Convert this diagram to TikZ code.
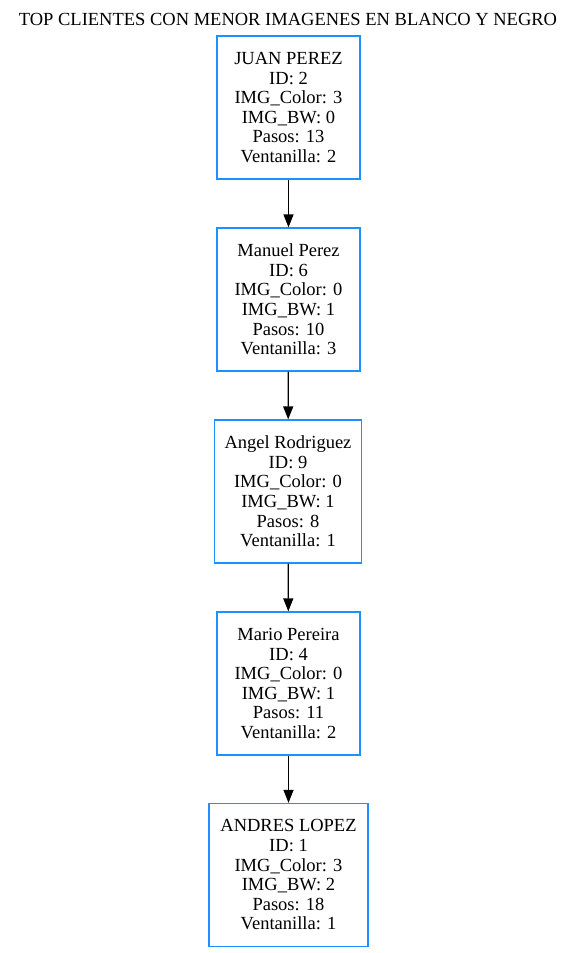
\documentclass[tikz,border=0pt]{standalone}
\usepackage{fontspec}
\setmainfont{Liberation Serif}
\usetikzlibrary{arrows.meta}
\definecolor{boxblue}{RGB}{30,144,255}
\begin{document}
\begin{tikzpicture}[x=1pt,y=-1pt,
		cliente/.style={draw=boxblue,line width=1.2pt,align=center,minimum width=143pt,minimum height=143pt,inner xsep=10pt,font=\fontsize{18.5}{19.6}\selectfont},
		flecha/.style={-{Triangle[length=13pt,width=10pt]},line width=1.2pt}]
	\useasboundingbox (0,0) rectangle (577,953);
	\node[font=\fontsize{18.5}{19.6}\selectfont] (titulo) at (288,19) {TOP CLIENTES CON MENOR IMAGENES EN BLANCO Y NEGRO};
	% clientes
	\node[cliente] (juan) at (288.5,107.5) {JUAN PEREZ\\ID: 2\\IMG\_Color: 3\\IMG\_BW: 0\\Pasos: 13\\Ventanilla: 2};
	\node[cliente] (manuel) at (288.5,299.5) {Manuel Perez\\ID: 6\\IMG\_Color: 0\\IMG\_BW: 1\\Pasos: 10\\Ventanilla: 3};
	\node[cliente,minimum width=146pt] (angel) at (288,491.5) {Angel Rodriguez\\ID: 9\\IMG\_Color: 0\\IMG\_BW: 1\\Pasos: 8\\Ventanilla: 1};
	\node[cliente] (mario) at (288.5,683.5) {Mario Pereira\\ID: 4\\IMG\_Color: 0\\IMG\_BW: 1\\Pasos: 11\\Ventanilla: 2};
	\node[cliente,minimum width=159pt] (andres) at (288.5,875) {ANDRES LOPEZ\\ID: 1\\IMG\_Color: 3\\IMG\_BW: 2\\Pasos: 18\\Ventanilla: 1};
	% enlaces
	\draw[flecha] (juan) -- (manuel);
	\draw[flecha] (manuel) -- (angel);
	\draw[flecha] (angel) -- (mario);
	\draw[flecha] (mario) -- (andres);
\end{tikzpicture}
\end{document}
